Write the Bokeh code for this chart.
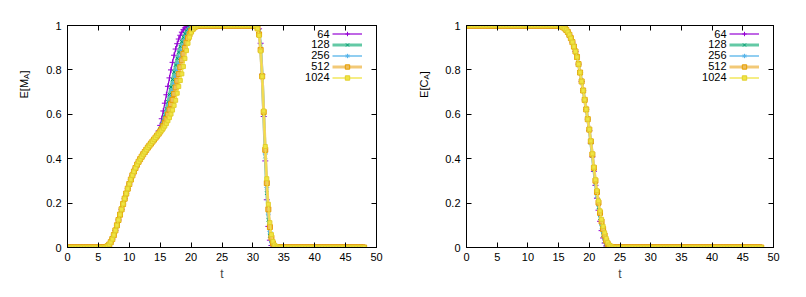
from bokeh.plotting import figure
from bokeh.models import LinearAxis, FixedTicker, Label, Legend, LegendItem, Range1d
from bokeh.core.properties import value
from bokeh.layouts import row
from bokeh.embed import file_html
from bokeh.resources import INLINE
import math

# ---------------- data ----------------
T_START = 0.0
T_STEP = 0.25
N_POINTS = 193          # t = 0 .. 48
t = [T_START + T_STEP * i for i in range(N_POINTS)]

SERIES = ["64", "128", "256", "512", "1024"]
X_TICKS = [0, 5, 10, 15, 20, 25, 30, 35, 40, 45, 50]
Y_TICKS = [0, 0.2, 0.4, 0.6, 0.8, 1]
Y_TICK_LABELS = ["0", "0.2", "0.4", "0.6", "0.8", "1"]

# E[M_A]: t = 6.0 .. 14.5 (all series coincide)
MA_RISE_COMMON = [0.0, 0.002, 0.006, 0.013, 0.024, 0.038, 0.056, 0.077, 0.1, 0.124,
                  0.148, 0.172, 0.196, 0.22, 0.243, 0.265, 0.286, 0.306, 0.325, 0.342,
                  0.358, 0.373, 0.386, 0.398, 0.409, 0.42, 0.43, 0.44, 0.45, 0.459,
                  0.468, 0.477, 0.486, 0.495, 0.504]
# E[M_A]: t = 14.75 .. 21.5
MA_RISE_64 = [0.525, 0.55, 0.58, 0.615, 0.65, 0.688, 0.726, 0.764, 0.8, 0.834, 0.866,
              0.894, 0.918, 0.939, 0.956, 0.97, 0.981, 0.989, 0.994, 0.997, 0.999, 1.0,
              1.0, 1.0, 1.0, 1.0, 1.0, 1.0]
MA_RISE_128 = [0.518, 0.533, 0.551, 0.572, 0.597, 0.625, 0.656, 0.689, 0.723, 0.757, 0.79,
               0.822, 0.852, 0.88, 0.905, 0.927, 0.946, 0.962, 0.975, 0.985, 0.992, 0.996,
               0.998, 1.0, 1.0, 1.0, 1.0, 1.0]
MA_RISE_256 = [0.514, 0.526, 0.54, 0.556, 0.576, 0.598, 0.622, 0.649, 0.678, 0.708, 0.739,
               0.77, 0.8, 0.83, 0.858, 0.885, 0.91, 0.932, 0.951, 0.967, 0.979, 0.988,
               0.994, 0.997, 0.999, 1.0, 1.0, 1.0]
MA_RISE_512 = [0.513, 0.523, 0.534, 0.547, 0.562, 0.579, 0.599, 0.621, 0.646, 0.665, 0.692,
               0.721, 0.751, 0.781, 0.812, 0.843, 0.872, 0.899, 0.923, 0.944, 0.961, 0.975,
               0.985, 0.992, 0.996, 0.998, 1.0, 1.0]
MA_RISE_1024 = [0.512, 0.52, 0.528, 0.537, 0.547, 0.558, 0.571, 0.585, 0.601, 0.619, 0.64,
                0.663, 0.695, 0.725, 0.752, 0.782, 0.815, 0.851, 0.887, 0.92, 0.947, 0.968,
                0.982, 0.991, 0.996, 0.999, 1.0, 1.0]
# E[M_A]: t = 30.5 .. 34.0
MA_FALL_64 = [1.0, 0.999, 0.985, 0.92, 0.78, 0.59, 0.39, 0.215, 0.095, 0.033, 0.009, 0.002,
              0.0, 0.0, 0.0]
MA_FALL_128 = [0.999, 0.995, 0.975, 0.905, 0.775, 0.6, 0.41, 0.245, 0.125, 0.052, 0.018,
               0.005, 0.001, 0.0, 0.0]
MA_FALL_256 = [0.999, 0.992, 0.968, 0.898, 0.773, 0.605, 0.425, 0.27, 0.15, 0.072, 0.03,
               0.01, 0.003, 0.001, 0.0]
MA_FALL_512 = [0.998, 0.988, 0.96, 0.89, 0.771, 0.61, 0.44, 0.29, 0.172, 0.092, 0.044,
               0.018, 0.006, 0.002, 0.0]
MA_FALL_1024 = [0.997, 0.985, 0.955, 0.885, 0.77, 0.615, 0.455, 0.31, 0.195, 0.112, 0.058,
                0.027, 0.011, 0.004, 0.001]

# E[C_A]: t = 15.0 .. 19.75 (all series coincide)
CA_FALL_COMMON = [0.999, 0.998, 0.996, 0.992, 0.987, 0.98, 0.971, 0.958, 0.943, 0.925,
                  0.905, 0.883, 0.858, 0.826, 0.788, 0.748, 0.707, 0.665, 0.622, 0.578]
# E[C_A]: t = 20.0 .. 24.0
CA_TAIL_64 = [0.527, 0.47, 0.408, 0.343, 0.28, 0.222, 0.168, 0.118, 0.076, 0.043, 0.02,
              0.007, 0.002, 0.0, 0.0, 0.0, 0.0]
CA_TAIL_128 = [0.529, 0.473, 0.412, 0.35, 0.289, 0.233, 0.181, 0.133, 0.091, 0.056, 0.03,
               0.013, 0.005, 0.001, 0.0, 0.0, 0.0]
CA_TAIL_256 = [0.53, 0.476, 0.416, 0.355, 0.296, 0.242, 0.193, 0.146, 0.105, 0.07, 0.042,
               0.022, 0.01, 0.004, 0.001, 0.0, 0.0]
CA_TAIL_512 = [0.531, 0.478, 0.419, 0.359, 0.301, 0.25, 0.202, 0.156, 0.117, 0.083, 0.054,
               0.031, 0.016, 0.007, 0.003, 0.001, 0.0]
CA_TAIL_1024 = [0.532, 0.48, 0.422, 0.362, 0.305, 0.256, 0.21, 0.165, 0.127, 0.095, 0.066,
                0.041, 0.023, 0.011, 0.005, 0.002, 0.0]


def build_ma(rise, fall):
    # 0 for t<6, common rise, series rise, plateau at 1, series fall, 0 afterwards
    return [0.0] * 24 + MA_RISE_COMMON + rise + [1.0] * 35 + fall + [0.0] * 56


def build_ca(tail):
    # 1 for t<15, common fall, series tail, 0 afterwards
    return [1.0] * 60 + CA_FALL_COMMON + tail + [0.0] * 96


MA = [build_ma(MA_RISE_64, MA_FALL_64), build_ma(MA_RISE_128, MA_FALL_128),
      build_ma(MA_RISE_256, MA_FALL_256), build_ma(MA_RISE_512, MA_FALL_512),
      build_ma(MA_RISE_1024, MA_FALL_1024)]
CA = [build_ca(CA_TAIL_64), build_ca(CA_TAIL_128), build_ca(CA_TAIL_256),
      build_ca(CA_TAIL_512), build_ca(CA_TAIL_1024)]
for s in MA + CA:
    assert len(s) == N_POINTS

# ---------------- style ----------------
FONT = "Liberation Sans"
LINE_COLORS = ["#9400D3", "#63C9A5", "#56B4E9", "#F2C977", "#F0E442"]
LINE_WIDTHS = [1.2, 3.0, 1.3, 3.0, 1.3]
MARKERS = ["cross", "x", "asterisk", "square", "square"]
MARKER_SIZES = [6, 5, 5, 5, 4]
MARKER_LINE = ["#9400D3", "#009E73", "#56B4E9", "#E69F00", "#E2CF2E"]
MARKER_FILL = ["#9400D3", "#009E73", "#56B4E9", "#EDBD5C", "#F0E442"]
H = 297
FRAME_TOP = 25
FRAME_H = 222


def make_ylabel(main, sub, w_main):
    # narrow figure that only holds the rotated y-axis title (with subscript)
    f = figure(width=40, height=H, output_backend="svg", toolbar_location=None,
               x_axis_type=None, y_axis_type=None, min_border=0,
               x_range=Range1d(0, 40), y_range=Range1d(0, H))
    f.outline_line_color = None
    f.xgrid.visible = False
    f.ygrid.visible = False
    total = w_main + 5.3 + 3.1
    yc = H - 134
    y0 = yc - total / 2
    common = dict(x_units="screen", y_units="screen", angle=math.pi / 2,
                  text_align="left", text_baseline="middle", text_font=FONT,
                  text_color="black")
    f.add_layout(Label(x=23, y=y0, text=main, text_font_size="11px", **common))
    f.add_layout(Label(x=25.5, y=y0 + w_main, text=sub, text_font_size="8px", **common))
    f.add_layout(Label(x=23, y=y0 + w_main + 5.3, text="]", text_font_size="11px", **common))
    return f


def make_plot(series_list, frame_left, frame_width, right_border):
    p = figure(frame_width=frame_width, frame_height=FRAME_H, output_backend="svg",
               toolbar_location=None, x_range=Range1d(0, 50), y_range=Range1d(0, 1),
               min_border_left=frame_left, min_border_right=right_border,
               min_border_top=FRAME_TOP, min_border_bottom=H - FRAME_TOP - FRAME_H)
    p.xgrid.visible = False
    p.ygrid.visible = False
    p.outline_line_color = "black"
    p.outline_line_width = 1
    p.background_fill_color = "white"
    p.border_fill_color = "white"

    for ax, ticks in ((p.xaxis[0], X_TICKS), (p.yaxis[0], Y_TICKS)):
        ax.ticker = FixedTicker(ticks=ticks)
        ax.major_tick_in = 5
        ax.major_tick_out = 0
        ax.minor_tick_line_color = None
        ax.axis_line_color = "black"
        ax.major_tick_line_color = "black"
        ax.major_label_text_font = FONT
        ax.major_label_text_font_size = "11px"
        ax.major_label_text_color = "black"
    p.xaxis[0].major_label_standoff = 5
    p.yaxis[0].major_label_standoff = 6
    p.yaxis[0].major_label_overrides = {v: s for v, s in zip(Y_TICKS, Y_TICK_LABELS)}
    p.xaxis[0].axis_label = "t"
    p.xaxis[0].axis_label_text_font = FONT
    p.xaxis[0].axis_label_text_font_size = "12px"
    p.xaxis[0].axis_label_text_font_style = "normal"
    p.xaxis[0].axis_label_standoff = 3

    # mirror ticks on top and right
    for place, ticks in (("above", X_TICKS), ("right", Y_TICKS)):
        ax = LinearAxis(ticker=FixedTicker(ticks=ticks), major_tick_in=5, major_tick_out=0,
                        minor_tick_line_color=None, major_label_text_color=None,
                        major_label_text_font_size="1px", axis_line_color="black",
                        major_label_standoff=0)
        p.add_layout(ax, place)

    items = []
    for i, ys in enumerate(series_list):
        lr = p.line(t, ys, line_color=LINE_COLORS[i], line_width=LINE_WIDTHS[i])
        sr = p.scatter(t, ys, marker=MARKERS[i], size=MARKER_SIZES[i],
                       line_color=MARKER_LINE[i], fill_color=MARKER_FILL[i], line_width=1)
        items.append(LegendItem(label=value(""), renderers=[lr, sr]))

    legend = Legend(items=items, location=(frame_width - 44, FRAME_H - 3 - 55),
                    glyph_width=30, glyph_height=11, label_height=11, label_width=0,
                    label_standoff=0, spacing=0, padding=0, margin=0,
                    border_line_color=None, background_fill_alpha=0,
                    label_text_font_size="1px")
    p.add_layout(legend)
    for i, name in enumerate(SERIES):
        p.add_layout(Label(x=frame_width - 47, y=FRAME_H - 8 - 10.8 * i, x_units="screen",
                           y_units="screen", text=name, text_align="right",
                           text_baseline="middle", text_font=FONT, text_font_size="11px",
                           text_color="black"))
    return p


lab1 = make_ylabel("E[M", "A", 19.6)
p1 = make_plot(MA, 27, 309, 24)
lab2 = make_ylabel("E[C", "A", 18.4)
p2 = make_plot(CA, 26, 307, 25)
layout = row(lab1, p1, lab2, p2)

open("out.html", "w").write(file_html(layout, INLINE))
